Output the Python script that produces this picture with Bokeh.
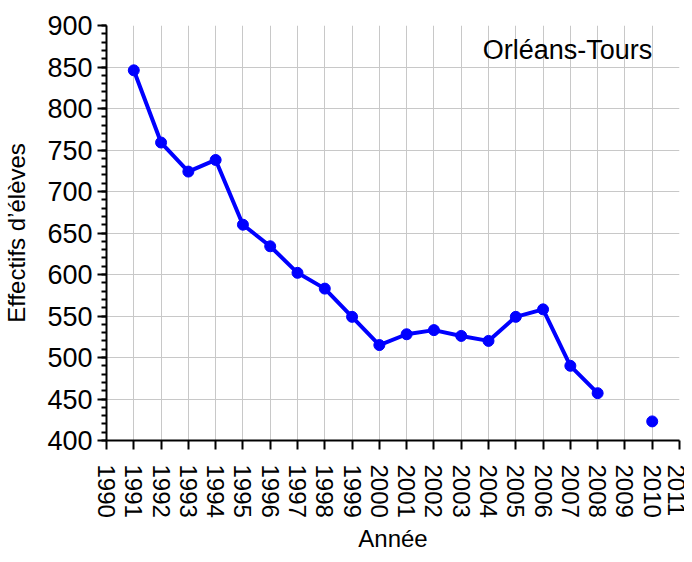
import math
from bokeh.plotting import figure
from bokeh.models import SingleIntervalTicker, Range1d, Label
from bokeh.embed import file_html
from bokeh.resources import INLINE

years = [1991, 1992, 1993, 1994, 1995, 1996, 1997, 1998, 1999, 2000,
         2001, 2002, 2003, 2004, 2005, 2006, 2007, 2008, 2009, 2010]
effectifs = [846, 759, 724, 738, 660, 634, 602, 583, 549, 515,
             528, 533, 526, 520, 549, 558, 490, 457, float("nan"), 423]
title_text = "Orléans-Tours"
x_label = "Année"
y_label = "Effectifs d\u2019élèves"

FONT = "Liberation Sans"

p = figure(width=684, height=554, output_backend="svg", toolbar_location=None,
           x_range=Range1d(1990, 2011), y_range=Range1d(400, 900),
           min_border_left=0, min_border_right=5, min_border_top=25, min_border_bottom=0)
p.outline_line_color = None
p.background_fill_color = "white"
p.border_fill_color = "white"

p.line(years, effectifs, line_color="#0000ff", line_width=4)
p.scatter(years, effectifs, size=11, fill_color="#0000ff", line_color="#0000ff")

xax = p.xaxis[0]
xax.ticker = SingleIntervalTicker(interval=1, num_minor_ticks=0)
xax.major_label_orientation = -math.pi / 2
xax.axis_label = x_label
yax = p.yaxis[0]
yax.ticker = SingleIntervalTicker(interval=50, num_minor_ticks=5)
yax.axis_label = y_label

for ax in (xax, yax):
    ax.axis_line_color = "black"
    ax.axis_line_width = 2
    ax.major_tick_line_color = "black"
    ax.major_tick_line_width = 2
    ax.minor_tick_line_color = "black"
    ax.minor_tick_line_width = 2
    ax.major_tick_in = 0
    ax.major_tick_out = 9
    ax.minor_tick_in = 0
    ax.minor_tick_out = 5
    ax.major_label_text_font = FONT
    ax.major_label_text_color = "black"
    ax.axis_label_text_font = FONT
    ax.axis_label_text_font_size = "24px"
    ax.axis_label_text_font_style = "normal"
    ax.axis_label_text_color = "black"

xax.major_label_text_font_size = "24px"
yax.major_label_text_font_size = "27px"
xax.major_label_standoff = 15
xax.axis_label_standoff = 4
yax.major_label_standoff = 5
yax.axis_label_standoff = 14

for g in (p.xgrid[0], p.ygrid[0]):
    g.grid_line_color = "#c8c8c8"
    g.grid_line_width = 1
p.xgrid[0].ticker = xax.ticker
p.ygrid[0].ticker = yax.ticker

p.add_layout(Label(x=2010.0, y=870, text=title_text, text_align="right",
                   text_baseline="middle", text_font=FONT, text_font_size="27px",
                   text_color="black"))

open("out.html", "w").write(file_html(p, INLINE))
